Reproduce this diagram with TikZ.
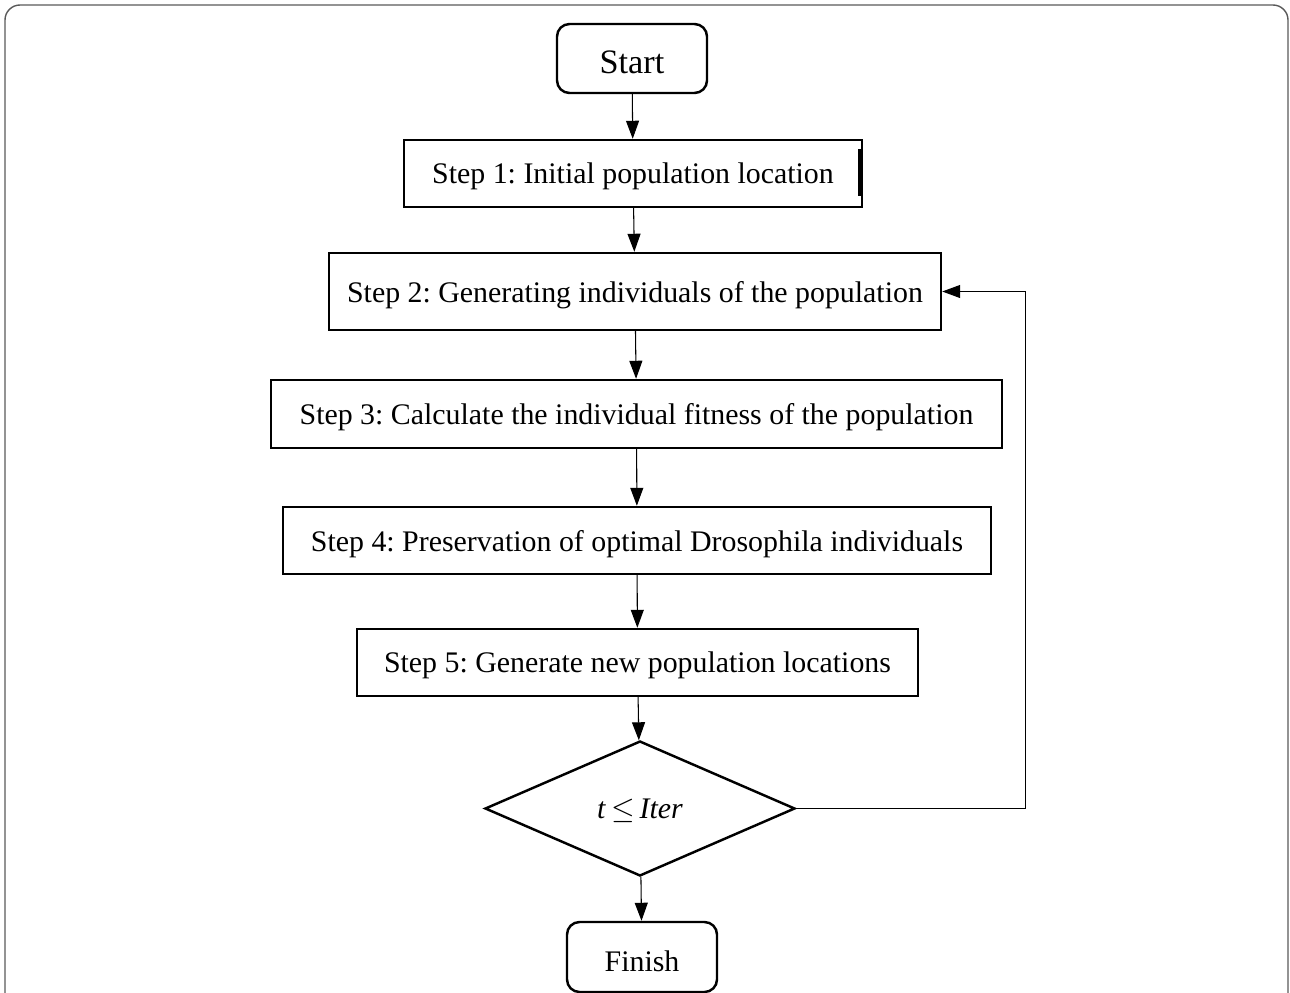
\documentclass[tikz,border=0pt]{standalone}
\usepackage{fontspec}
\setmainfont{Liberation Serif}
\usetikzlibrary{shapes.geometric,positioning,arrows.meta}
\frenchspacing

\begin{document}
\begin{tikzpicture}[
  stepbox/.style={draw, line width=1.4pt, minimum height=1.34cm, inner sep=0pt, text depth=0pt,
    font=\fontsize{17}{20}\selectfont},
  termbox/.style={stepbox, rounded corners=0.25cm, minimum width=3.0cm, minimum height=1.38cm,
    text height=0.58cm},
  decision/.style={draw, diamond, line width=1.4pt, minimum width=6.2cm, minimum height=2.7cm,
    inner sep=0pt, text depth=0pt, font=\fontsize{17}{20}\selectfont},
  link/.style={line width=0.6pt, -{Triangle[length=0.36cm,width=0.26cm]}}
]
  \useasboundingbox (0,0) rectangle (25.8,-19.86);
  % outer frame
  \draw[gray!70!black, line width=0.8pt, rounded corners=0.3cm]
    (0.1,-19.86) -- (0.1,-0.1) -- (25.76,-0.1) -- (25.76,-19.86);

  % flow boxes
  \node[termbox, font=\fontsize{19.5}{22}\selectfont] (start) at (12.64,-1.17) {Start};
  \node[stepbox, minimum width=9.16cm] (step1) at (12.66,-3.47) {Step 1: Initial population location};
  \node[stepbox, minimum width=12.24cm, minimum height=1.54cm] (step2) at (12.70,-5.83) {Step 2: Generating individuals of the population};
  \node[stepbox, minimum width=14.62cm, minimum height=1.36cm] (step3) at (12.73,-8.28) {Step 3: Calculate the individual fitness of the population};
  \node[stepbox, minimum width=14.16cm] (step4) at (12.74,-10.81) {Step 4: Preservation of optimal Drosophila individuals};
  \node[stepbox, minimum width=11.22cm] (step5) at (12.75,-13.25) {Step 5: Generate new population locations};
  \node[decision] (check) at (12.8,-16.17) {\textit{t}\,$\leq$\,\textit{Iter}};
  \node[termbox, minimum height=1.4cm] (finish) at (12.84,-19.14) {Finish};
  \draw[line width=2.4pt] ([xshift=-0.06cm,yshift=-0.2cm]step1.north east) -- ([xshift=-0.06cm,yshift=0.24cm]step1.south east);

  % connectors
  \draw[link] (start) -- (step1);
  \draw[link] (step1) -- (step2);
  \draw[link] (step2) -- (step3);
  \draw[link] (step3) -- (step4);
  \draw[link] (step4) -- (step5);
  \draw[link] (step5) -- (check);
  \draw[link] (check) -- (finish);
  \draw[link] (check.east) -- ++(4.58,0) |- (step2.east);
\end{tikzpicture}
\end{document}
